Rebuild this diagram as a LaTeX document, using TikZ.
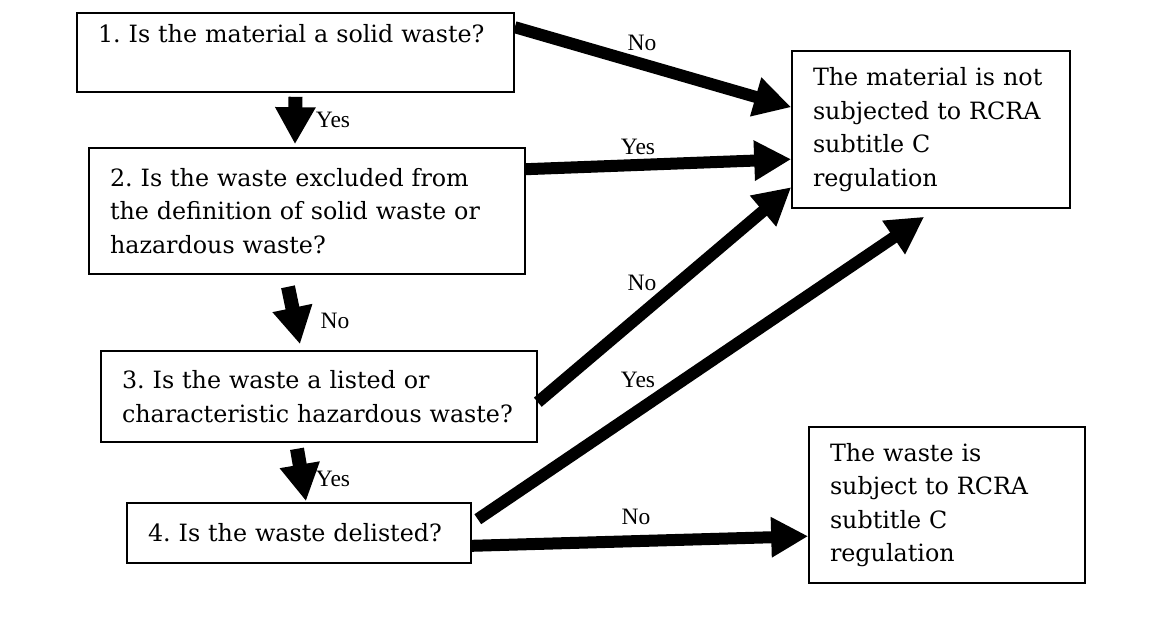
\documentclass[tikz,border=0pt]{standalone}
\usepackage{fontspec}
\setmainfont{DejaVu Serif}
\newfontfamily\labelfont{Liberation Serif}
\usetikzlibrary{arrows.meta}
\begin{document}
\frenchspacing
\begin{tikzpicture}[x=1pt,y=-1pt,
  box/.style={draw=black, line width=1.6pt, inner xsep=21pt, inner ysep=0pt,
    align=left, font=\fontsize{23.8}{33.5}\selectfont},
  fat/.style={line width=12pt, -{Triangle[length=37pt,width=38pt]}},
  stub/.style={line width=14pt, -{Triangle[length=37pt,width=38pt]}},
  lbl/.style={font=\labelfont\fontsize{23.5}{25}\selectfont, inner sep=0pt}]
\useasboundingbox (0,0) rectangle (1151,632);

% question boxes
\node[box, minimum width=437pt, minimum height=79pt, text width=395pt]
  (q1) at (295.5,52.5) {1. Is the material a solid waste?\\[5pt]~};
\node[box, minimum width=436pt, minimum height=126pt, text width=394pt]
  (q2) at (307,211) {2. Is the waste excluded from\\the definition of solid waste or\\hazardous waste?};
\node[box, minimum width=436pt, minimum height=91pt, text width=394pt]
  (q3) at (319,396.5) {3. Is the waste a listed or\\characteristic hazardous waste?};
\node[box, minimum width=344pt, minimum height=60pt, text width=302pt]
  (q4) at (299,533) {4. Is the waste delisted?};

% outcome boxes
\node[box, minimum width=278pt, minimum height=157pt, text width=236pt]
  (notreg) at (931,129.5) {The material is not\\subjected to RCRA\\subtitle C\\regulation};
\node[box, minimum width=276pt, minimum height=156pt, text width=234pt]
  (reg) at (947,505) {The waste is\\subject to RCRA\\subtitle C\\regulation};

% downward steps
\draw[stub] ([yshift=-4pt]q1.south) -- ([xshift=-12pt,yshift=3pt]q2.north);
\draw[stub] ([xshift=-19pt,yshift=-12pt]q2.south) -- ([xshift=-19pt,yshift=6pt]q3.north);
\draw[stub] ([xshift=-22pt,yshift=-6pt]q3.south) -- ([xshift=7pt,yshift=1pt]q4.north);

% branches to the outcomes
\draw[fat] ([yshift=-15pt]q1.north east) -- ([yshift=-57pt]notreg.north west);
\draw[fat] ([yshift=-22pt]q2.north east) -- ([yshift=-109pt]notreg.north west);
\draw[fat] ([yshift=-52pt]q3.north east) -- ([yshift=-137pt]notreg.north west);
\draw[fat] ([xshift=6pt,yshift=-17pt]q4.north east) -- ([xshift=133pt,yshift=-8pt]notreg.south west);
\draw[fat] ([yshift=18pt]q4.south east) -- ([yshift=-110pt]reg.north west);

% branch labels
\node[lbl] (l1) at (333,120) {Yes};
\node[lbl] (l2) at (335,321) {No};
\node[lbl] (l3) at (333,479) {Yes};
\node[lbl] (l4) at (642,43) {No};
\node[lbl] (l5) at (638,147) {Yes};
\node[lbl] (l6) at (642,283) {No};
\node[lbl] (l7) at (638,380) {Yes};
\node[lbl] (l8) at (636,517) {No};
\end{tikzpicture}
\end{document}
